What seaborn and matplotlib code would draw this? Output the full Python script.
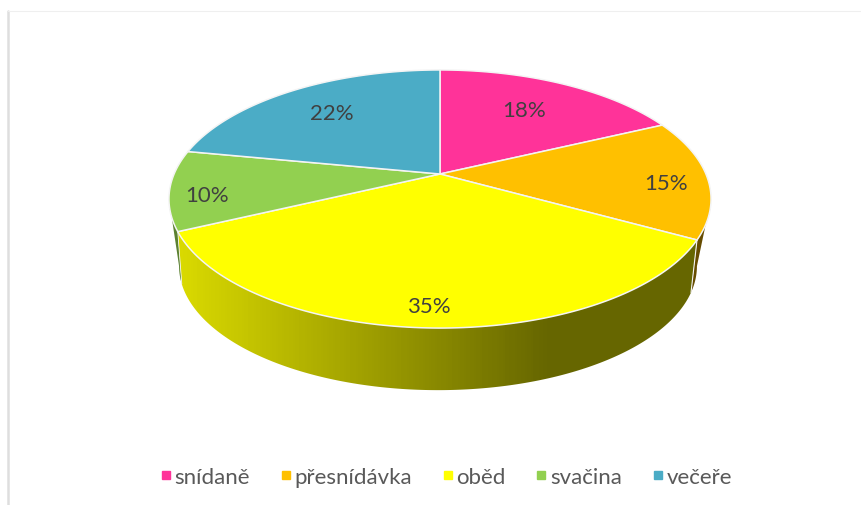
import numpy as np
import matplotlib
matplotlib.use("Agg")
import matplotlib.pyplot as plt
from matplotlib.lines import Line2D
from matplotlib.patches import Polygon
import seaborn as sns

# podily jidel behem dne
meals = ["snídaně", "přesnídávka", "oběd", "svačina", "večeře"]
shares = [18, 15, 35, 10, 22]
colors = ["#FF3399", "#FFC000", "#FFFF00", "#92D050", "#4BACC6"]

sns.set_theme(style="white")
plt.rcParams["font.family"] = ["Lato", "DejaVu Sans"]

fig = plt.figure(figsize=(8.62, 5.06), dpi=100)
ax = fig.add_axes([0, 0, 1, 1])
ax.set_xlim(0, 862)
ax.set_ylim(506, 0)
ax.axis("off")

# perspektiva: kruh -> elipsa na obrazovce
K = 0.1938
K_BOTTOM = 0.3


def top_rim(theta, r=1.0):
    u, v = r * np.sin(theta), r * np.cos(theta)
    w = 1 + K * v
    return 440 + 265.9 * u / w, 175 - 124.2 * v / w


def bottom_rim(theta):
    u, v = np.sin(theta), np.cos(theta)
    w = 1 + K_BOTTOM * v
    return 438 + 247 * u / w, 230 - 112.8 * v / w


# uhly rezu z hodnot
edges = np.radians(np.cumsum([0] + shares) / sum(shares) * 360)
silhouette = np.arccos(-K)
silhouette_b = np.arccos(-K_BOTTOM)

# boky, zezadu dopredu - prechod podle x
walls = [
    (1, silhouette, edges[2], 0),
    (3, edges[3], 2 * np.pi - silhouette, 90),
    (2, edges[2], edges[3], 0),
]
xs = np.arange(165, 716)
for idx, start, end, extra in walls:
    dark = np.array(sns.blend_palette([colors[idx], "black"], 401))
    shade = np.interp(xs, [180, 547], [60, 240]).astype(int) + extra
    grad = dark[shade][np.newaxis, :, :]
    th = np.linspace(start, end, 200)
    xt, yt = top_rim(th)
    xb, yb = bottom_rim(np.clip(th, silhouette_b, 2 * np.pi - silhouette_b))
    wall = Polygon(np.c_[np.r_[xt, xb[::-1]], np.r_[yt, yb[::-1]]],
                   transform=ax.transData, fc="none", ec="none")
    ax.add_patch(wall)
    im = ax.imshow(grad, extent=(165, 716, 400, 190), aspect="auto", zorder=2)
    im.set_clip_path(wall)
    if idx == 2:
        # bila linka mezi boky
        ax.plot([xt[0], xb[0]], [yt[0], yb[0]], color="#F4F4F4", lw=0.8, zorder=2.5)
        ax.plot([xt[-1], xb[-1]], [yt[-1], yb[-1]], color="#F4F4F4", lw=0.6, zorder=2.5)
ax.set_xlim(0, 862)
ax.set_ylim(506, 0)

# horni plocha
for i, color in enumerate(colors):
    th = np.linspace(edges[i], edges[i + 1], 120)
    x, y = top_rim(th)
    ax.fill(np.r_[440, x], np.r_[175, y], facecolor=color, edgecolor="#F4F4F4",
            lw=1.1, zorder=3)

# popisky
label_r = [0.69, 0.85, 0.875, 0.87, 0.72]
label_dx = [-4, -1, -2, 1, 2]
label_dy = [1, 6, 1, 7, 1]
for i, share in enumerate(shares):
    mid = (edges[i] + edges[i + 1]) / 2
    x, y = top_rim(mid, label_r[i])
    ax.text(x + label_dx[i], y + label_dy[i], f"{share}%", ha="center",
            va="center", fontsize=16, color="#404040", zorder=4)

# tenky ramecek vlevo a nahore
ax.plot([8, 8], [12, 506], color="#DEDEDE", lw=1.8, zorder=1)
ax.plot([8, 862], [12, 12], color="#EFEFEF", lw=0.8, zorder=1)

handles = [Line2D([], [], ls="", marker="s", ms=6, color=c) for c in colors]
ax.legend(handles, meals, ncol=5, frameon=False, loc="center",
          bbox_to_anchor=(0.5175, 0.0555), fontsize=16, labelcolor="#595959",
          handlelength=0.5, handletextpad=0.15, columnspacing=1.35)

fig.savefig("out.png", dpi=100)
